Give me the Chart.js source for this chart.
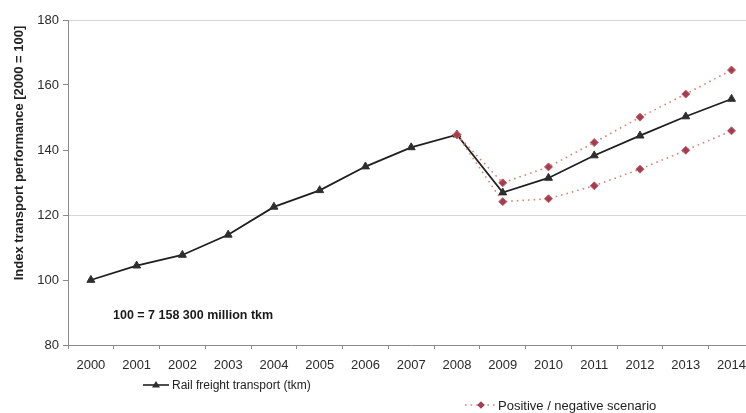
<!DOCTYPE html>
<html>
<head>
<meta charset="utf-8">
<title>Rail freight transport index</title>
<script src="https://cdn.jsdelivr.net/npm/chart.js@4/dist/chart.umd.min.js"></script>
<style>
  html, body { margin: 0; padding: 0; background: #ffffff; overflow: hidden; }
  #wrap { width: 760px; height: 413px; }
</style>
</head>
<body>
<div id="wrap"><canvas id="chart" width="760" height="413"></canvas></div>
<script>
// Years on the category axis
const years = ['2000','2001','2002','2003','2004','2005','2006','2007','2008',
               '2009','2010','2011','2012','2013','2014'];

// Index of rail freight transport performance, 2000 = 100
const railFreight = [100, 104.4, 107.7, 113.9, 122.5, 127.6, 134.9, 140.8, 144.7,
                     126.9, 131.4, 138.3, 144.4, 150.3, 155.7];

// Scenario bands starting from the 2008 value
const positiveScenario = [null, null, null, null, null, null, null, null, 144.7,
                          129.9, 134.8, 142.3, 150.1, 157.2, 164.6];
const negativeScenario = [null, null, null, null, null, null, null, null, 144.7,
                          124.1, 125.0, 129.0, 134.1, 139.9, 145.9];

// Value axis ticks
const yTicks = [80, 100, 120, 140, 160, 180];
const gridValues = [120, 180];

const yTitle = 'Index transport performance [2000 = 100]';
const baseNote = '100 = 7 158 300 million tkm';
const railLabel = 'Rail freight transport (tkm)';
const scenarioLabel = 'Positive / negative scenario';

const FONT = '"Liberation Sans", Arial, Helvetica, sans-serif';
const railColor = '#1f1f1f';
const railPoint = '#2e2e2e';
const scenLine = '#d58372';
const scenPoint = '#a33d50';

const scenarioStyle = {
  borderColor: scenLine,
  borderWidth: 1.6,
  borderDash: [1.6, 4],
  pointStyle: 'rectRot',
  pointRadius: 4,
  pointBackgroundColor: scenPoint,
  pointBorderColor: '#c2606a',
  pointBorderWidth: 1,
  spanGaps: false,
  tension: 0,
  fill: false
};

// Axis title, base note and the two-row legend
const decorations = {
  id: 'decorations',
  afterDraw(chart) {
    const ctx = chart.ctx;
    const area = chart.chartArea;
    const yScale = chart.scales.y;
    ctx.save();

    // rotated value-axis title
    ctx.translate(19, 153);
    ctx.rotate(-Math.PI / 2);
    ctx.font = 'bold 13px ' + FONT;
    ctx.fillStyle = '#222';
    ctx.textAlign = 'center';
    ctx.textBaseline = 'middle';
    ctx.fillText(yTitle, 0, 0);
    ctx.setTransform(1, 0, 0, 1, 0, 0);

    // base value note
    ctx.font = 'bold 12.5px ' + FONT;
    ctx.fillStyle = '#1a1a1a';
    ctx.textAlign = 'left';
    ctx.textBaseline = 'middle';
    ctx.fillText(baseNote, area.left + 45, yScale.getPixelForValue(89.0));

    // legend entry: rail freight
    let ly = 385;
    ctx.strokeStyle = railColor;
    ctx.lineWidth = 1.6;
    ctx.setLineDash([]);
    ctx.beginPath();
    ctx.moveTo(143, ly);
    ctx.lineTo(169, ly);
    ctx.stroke();
    ctx.fillStyle = railPoint;
    ctx.beginPath();
    ctx.moveTo(156, ly - 4);
    ctx.lineTo(160, ly + 2.5);
    ctx.lineTo(152, ly + 2.5);
    ctx.closePath();
    ctx.fill();
    ctx.font = '12px ' + FONT;
    ctx.fillStyle = '#222';
    ctx.fillText(railLabel, 172, ly + 1);

    // legend entry: scenarios
    ly = 405;
    ctx.strokeStyle = scenLine;
    ctx.lineWidth = 1.6;
    ctx.setLineDash([1.6, 4]);
    ctx.beginPath();
    ctx.moveTo(465, ly);
    ctx.lineTo(495, ly);
    ctx.stroke();
    ctx.setLineDash([]);
    ctx.fillStyle = scenPoint;
    ctx.beginPath();
    ctx.moveTo(481, ly - 3.8);
    ctx.lineTo(484.8, ly);
    ctx.lineTo(481, ly + 3.8);
    ctx.lineTo(477.2, ly);
    ctx.closePath();
    ctx.fill();
    ctx.font = '13px ' + FONT;
    ctx.fillStyle = '#222';
    ctx.fillText(scenarioLabel, 498, ly + 1);

    ctx.restore();
  }
};

new Chart(document.getElementById('chart'), {
  type: 'line',
  data: {
    labels: years,
    datasets: [
      {
        label: railLabel,
        data: railFreight,
        borderColor: railColor,
        borderWidth: 1.8,
        pointStyle: 'triangle',
        pointRadius: 4.6,
        pointBackgroundColor: railPoint,
        pointBorderColor: railPoint,
        pointBorderWidth: 1,
        tension: 0,
        fill: false,
        order: 2
      },
      Object.assign({ label: 'Positive scenario', data: positiveScenario, order: 1 }, scenarioStyle),
      Object.assign({ label: 'Negative scenario', data: negativeScenario, order: 1 }, scenarioStyle)
    ]
  },
  options: {
    responsive: false,
    animation: false,
    events: [],
    layout: { padding: { top: 20, right: 2, left: 0, bottom: 0 } },
    plugins: {
      legend: { display: false },
      tooltip: { enabled: false },
      title: { display: false }
    },
    scales: {
      x: {
        type: 'category',
        offset: true,
        afterFit(scale) { scale.height = 68; },
        grid: {
          offset: true,
          drawOnChartArea: false,
          drawTicks: true,
          tickLength: 4,
          tickColor: '#8a8a8a'
        },
        border: { color: '#8a8a8a', width: 1 },
        ticks: {
          color: '#2a2a2a',
          font: { family: FONT, size: 13 },
          padding: 9,
          maxRotation: 0,
          autoSkip: false
        }
      },
      y: {
        min: 80,
        max: 180,
        afterFit(scale) { scale.width = 68; },
        afterBuildTicks(scale) { scale.ticks = yTicks.map(v => ({ value: v })); },
        grid: {
          color(c) {
            return c.tick && gridValues.includes(c.tick.value) ? 'rgba(0,0,0,0.16)' : 'rgba(0,0,0,0)';
          },
          tickColor: '#8a8a8a',
          tickLength: 5,
          drawTicks: true
        },
        border: { color: '#8a8a8a', width: 1 },
        ticks: {
          color: '#2a2a2a',
          font: { family: FONT, size: 13 },
          padding: 4
        }
      }
    }
  },
  plugins: [decorations]
});
</script>
</body>
</html>
